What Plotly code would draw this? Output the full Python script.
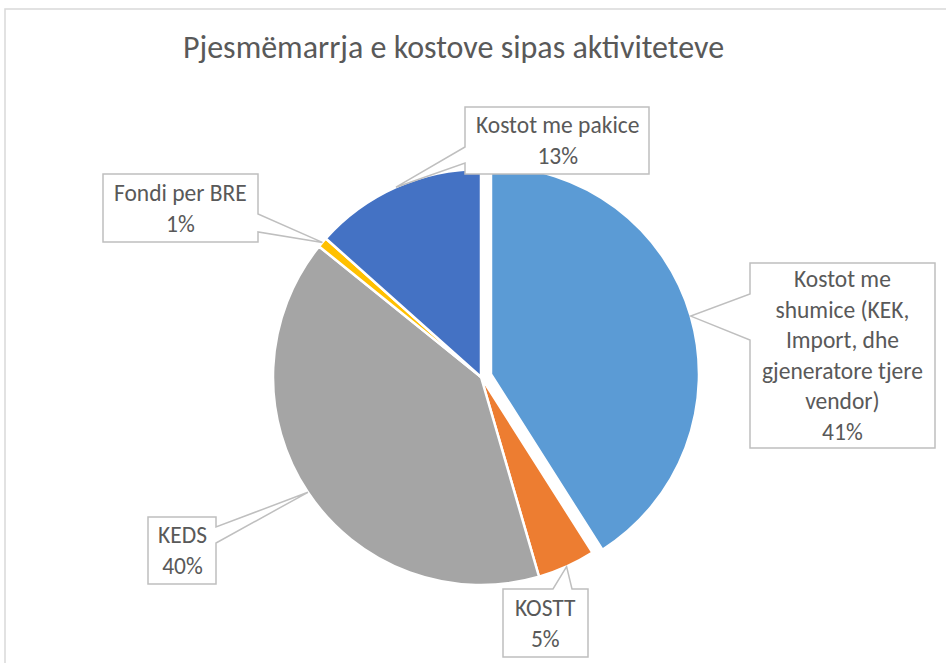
import math
import plotly.graph_objects as go

# ---- data ----
labels = ["Kostot me shumice (KEK, Import, dhe gjeneratore tjere vendor)",
          "KOSTT", "KEDS", "Fondi per BRE", "Kostot me pakice"]
values = [41.0, 4.5, 40.3, 0.8, 13.4]
label_text = ["Kostot me<br>shumice (KEK,<br>Import, dhe<br>gjeneratore tjere<br>vendor)<br>41%",
              "KOSTT<br>5%", "KEDS<br>40%", "Fondi per BRE<br>1%", "Kostot me pakice<br>13%"]
colors = ["#5B9BD5", "#ED7D31", "#A5A5A5", "#FFC000", "#4472C4"]
pulls = [0.05, 0, 0, 0, 0]
title = "Pjesmëmarrja e kostove sipas aktiviteteve"

# ---- layout constants (page pixels) ----
W, H = 946, 663
OFF = 0  # body margin removed by post_script
CX, CY, R = 481, 377, 208
FONT = "Carlito, Lato, sans-serif"
TXT = "#595959"
EDGE = "#BFBFBF"

# callout boxes: (x0, y0, x1, y1, side, base1, base2)
boxes = [
    (750, 263, 935, 448, "left", 294, 340),
    (503, 589, 588, 657, "top", 553, 572),
    (148, 517, 216, 584, "right", 527, 543),
    (103, 174, 258, 242, "right", 214, 232),
    (465, 107, 649, 174, "left", 147, 163),
]

half = R * (1 + max(pulls))
dom_x = [(CX - OFF - half) / W, (CX - OFF + half) / W]
dom_y = [1 - (CY - OFF + half) / H, 1 - (CY - OFF - half) / H]

fig = go.Figure()
fig.add_trace(go.Pie(
    labels=labels, values=values, sort=False, direction="clockwise", rotation=0,
    pull=pulls, marker=dict(colors=colors, line=dict(color="white", width=2.5)),
    textinfo="none", hoverinfo="label+percent", showlegend=False,
    domain=dict(x=dom_x, y=dom_y),
))

total = sum(values)
shapes = []
annotations = []
cum = 0.0
for i, v in enumerate(values):
    mid = (cum + v / 2) / total * 2 * math.pi
    cum += v
    r = R * (1 + pulls[i])
    tx = CX + r * math.sin(mid)
    ty = CY - r * math.cos(mid)
    x0, y0, x1, y1, side, b1, b2 = boxes[i]
    if side == "left":
        pts = [(x0, y0), (x1, y0), (x1, y1), (x0, y1), (x0, b2), (tx, ty), (x0, b1)]
    elif side == "right":
        pts = [(x0, y0), (x1, y0), (x1, b1), (tx, ty), (x1, b2), (x1, y1), (x0, y1)]
    else:  # top
        pts = [(x0, y0), (b1, y0), (tx, ty), (b2, y0), (x1, y0), (x1, y1), (x0, y1)]
    path = "M " + " L ".join(f"{px:.1f},{py:.1f}" for px, py in pts) + " Z"
    shapes.append(dict(type="path", path=path, xref="x", yref="y",
                       line=dict(color=EDGE, width=1.5), fillcolor="white", layer="above"))
    annotations.append(dict(x=(x0 + x1) / 2, y=(y0 + y1) / 2, xref="x", yref="y",
                            text=label_text[i], showarrow=False,
                            font=dict(family=FONT, size=23.5, color=TXT),
                            xanchor="center", yanchor="middle", align="center"))

# chart frame
shapes.append(dict(type="rect", xref="x", yref="y", x0=5, y0=9, x1=W + 30, y1=H + 30,
                   line=dict(color="#D9D9D9", width=1.5), fillcolor="rgba(0,0,0,0)", layer="below"))

annotations.append(dict(x=453, y=47, xref="x", yref="y", text=title, showarrow=False,
                        font=dict(family=FONT, size=32, color=TXT),
                        xanchor="center", yanchor="middle"))

fig.update_layout(
    width=W, height=H, margin=dict(l=0, r=0, t=0, b=0),
    paper_bgcolor="white", plot_bgcolor="rgba(0,0,0,0)",
    xaxis=dict(range=[OFF, W + OFF], visible=False, domain=[0, 1], fixedrange=True),
    yaxis=dict(range=[H + OFF, OFF], visible=False, domain=[0, 1], fixedrange=True),
    shapes=shapes, annotations=annotations,
)

fig.write_html("out.html", config={"displayModeBar": False},
               post_script="document.body.style.margin='0';document.body.style.overflow='hidden';")
